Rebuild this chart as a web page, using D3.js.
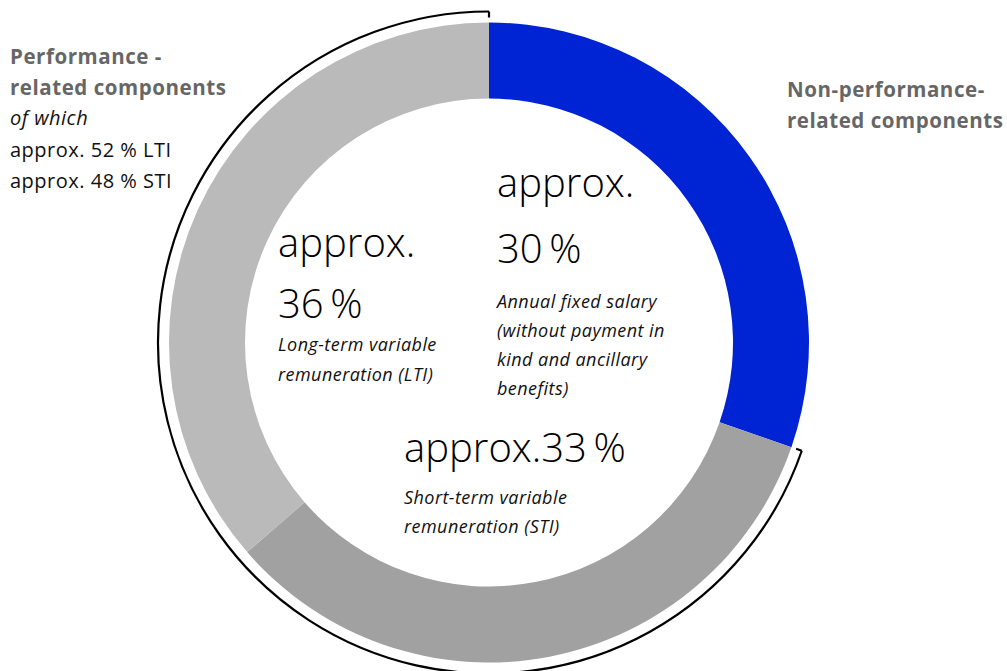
<!DOCTYPE html>
<html><head><meta charset="utf-8">
<script src="https://cdn.jsdelivr.net/npm/d3@7"></script>
<style>
html,body{margin:0;padding:0;background:#fff;}
svg{display:block;font-family:"Open Sans",sans-serif;}
</style></head>
<body>
<svg id="chart" width="1007" height="671"></svg>
<script>
const categories = ["Annual fixed salary", "Short-term variable remuneration (STI)", "Long-term variable remuneration (LTI)"];
const values = [30, 33, 36];
const colors = ["#0023d3", "#a1a1a1", "#bababa"];
const bigLabels = [["approx.", "30\u2009%"], ["approx.33\u2009%"], ["approx.", "36\u2009%"]];
const smallLabels = [
  ["Annual fixed salary", "(without payment in", "kind and ancillary", "benefits)"],
  ["Short-term variable", "remuneration (STI)"],
  ["Long-term variable", "remuneration (LTI)"]
];
const leftTitle = ["Performance -", "related components"];
const leftSub = "of which";
const leftLines = ["approx. 52\u00a0% LTI", "approx. 48\u00a0% STI"];
const rightTitle = ["Non-performance-", "related components"];

const svg = d3.select("#chart");
const cx = 489, cy = 342.5, R = 320, r = 244;
const g = svg.append("g").attr("transform", `translate(${cx},${cy})`);

const pie = d3.pie().sort(null).value(d => d)(values);
const arc = d3.arc().innerRadius(r).outerRadius(R);
g.selectAll("path.seg").data(pie).join("path")
  .attr("class", "seg").attr("d", arc).attr("fill", (d, i) => colors[i]);

// bracket around performance-related components (STI + LTI)
const br = 331, bri = 325;
const a0 = pie[1].startAngle, a1 = pie[2].endAngle;
const bArc = d3.arc().innerRadius(br).outerRadius(br).startAngle(a0).endAngle(a1);
g.append("path").attr("d", bArc()).attr("fill", "none").attr("stroke", "#000").attr("stroke-width", 2.2);
[a0, a1].forEach(a => {
  g.append("line")
    .attr("x1", br * Math.sin(a)).attr("y1", -br * Math.cos(a))
    .attr("x2", bri * Math.sin(a)).attr("y2", -bri * Math.cos(a))
    .attr("stroke", "#000").attr("stroke-width", 2.2);
});

// center labels
const blocks = [
  {x: 497, big: [197, 263], small: [308, 337, 366, 395]},
  {x: 404, big: [462], small: [504, 533]},
  {x: 278, big: [257, 318], small: [351, 381]}
];
blocks.forEach((b, i) => {
  bigLabels[i].forEach((t, j) => {
    svg.append("text").attr("x", b.x).attr("y", b.big[j])
      .attr("font-size", 40).attr("font-weight", 300).attr("fill", "#000").text(t);
  });
  smallLabels[i].forEach((t, j) => {
    svg.append("text").attr("x", b.x).attr("y", b.small[j])
      .attr("font-size", 18).attr("letter-spacing", 0.45)
      .attr("font-style", "italic").attr("fill", "#111").text(t);
  });
});

// left annotation
leftTitle.forEach((t, j) => {
  svg.append("text").attr("x", 10).attr("y", 64 + j * 31)
    .attr("font-size", 20.5).attr("letter-spacing", 0.55)
    .attr("font-weight", 700).attr("fill", "#666").text(t);
});
svg.append("text").attr("x", 10).attr("y", 125).attr("font-size", 20)
  .attr("letter-spacing", 0.5).attr("font-style", "italic").attr("fill", "#111").text(leftSub);
leftLines.forEach((t, j) => {
  svg.append("text").attr("x", 10).attr("y", 157 + j * 30.5)
    .attr("font-size", 20).attr("letter-spacing", 0.5).attr("fill", "#111").text(t);
});

// right annotation
rightTitle.forEach((t, j) => {
  svg.append("text").attr("x", 787).attr("y", 97 + j * 30.5)
    .attr("font-size", 20.5).attr("letter-spacing", 0.55)
    .attr("font-weight", 700).attr("fill", "#666").text(t);
});
</script>
</body></html>
